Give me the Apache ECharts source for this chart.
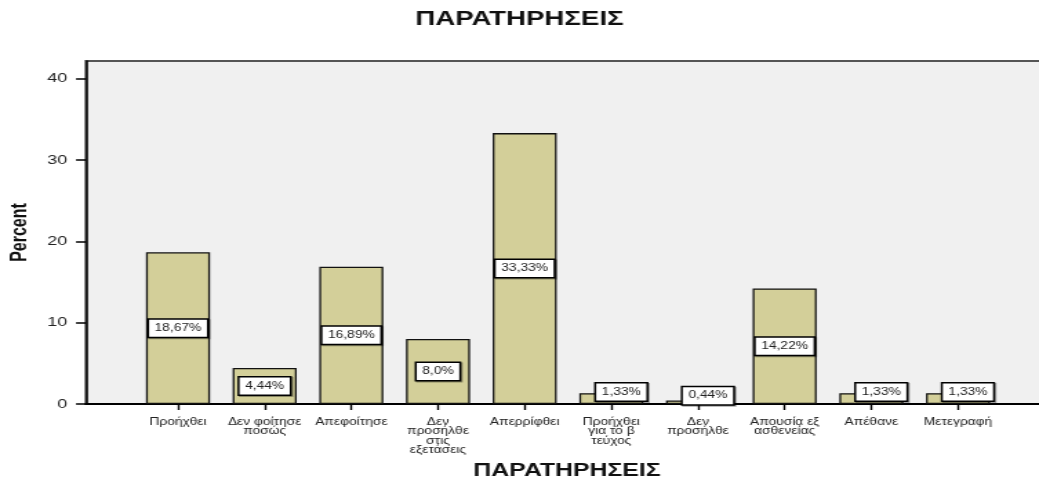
<!DOCTYPE html>
<html>
<head>
<meta charset="utf-8">
<script src="https://cdn.jsdelivr.net/npm/echarts@6/dist/echarts.min.js"></script>
<style>
  html, body { margin: 0; padding: 0; background: #ffffff; overflow: hidden; }
  #wrap { width: 1039px; height: 479px; overflow: hidden; }
  /* the chart is laid out on a narrower canvas and widened, like the exported graphic */
  #chart { width: 753px; height: 479px; transform: scaleX(1.3798); transform-origin: 0 0; }
</style>
</head>
<body>
<div id="wrap"><div id="chart"></div></div>
<script>
// ΠΑΡΑΤΗΡΗΣΕΙΣ – share of students per remark (percent)
const categories = [
  'Προήχθει',
  'Δεν φοίτησε\nποσώς',
  'Απεφοίτησε',
  'Δεν\nπροσήλθε\nστις\nεξετάσεις',
  'Απερρίφθει',
  'Προήχθει\nγια το β\nτεύχος',
  'Δεν\nπροσήλθε',
  'Απουσία εξ\nασθενείας',
  'Απέθανε',
  'Μετεγραφή'
];
const percentValues = [18.67, 4.44, 16.89, 8.0, 33.33, 1.33, 0.44, 14.22, 1.33, 1.33];
const percentLabels = ['18,67%', '4,44%', '16,89%', '8,0%', '33,33%', '1,33%', '0,44%', '14,22%', '1,33%', '1,33%'];
const yTicks = [0, 10, 20, 30, 40];

const chartTitle = 'ΠΑΡΑΤΗΡΗΣΕΙΣ';
const xTitle = 'ΠΑΡΑΤΗΡΗΣΕΙΣ';
const yTitle = 'Percent';

const FONT = '"Liberation Sans", Arial, sans-serif';
const Y_MAX = 42.2;

const chart = echarts.init(document.getElementById('chart'), null, { renderer: 'canvas' });

const barData = percentValues.map((v, i) => {
  const item = { value: v, labelText: percentLabels[i] };
  if (v < 3) {
    // short bars: the value box sits beside the bar, just above the axis
    item.label = { position: 'inside', offset: [7.2, -6.5] };
  }
  return item;
});

const option = {
  animation: false,
  backgroundColor: '#ffffff',
  graphic: [
    {
      type: 'text', x: 376.5, y: 19,
      style: { text: chartTitle, font: 'bold 20px ' + FONT, fill: '#111', textAlign: 'center', textVerticalAlign: 'middle' }
    },
    {
      type: 'text', x: 411, y: 471,
      style: { text: xTitle, font: 'bold 18px ' + FONT, fill: '#111', textAlign: 'center', textVerticalAlign: 'middle' }
    }
  ],
  grid: [
    { // plot frame with the percent scale (runs past the right edge)
      left: 62.3, right: -8, top: 61, bottom: 75,
      outerBoundsMode: 'none', containLabel: false,
      show: true, backgroundColor: '#f0f0f0', borderColor: '#555', borderWidth: 2
    },
    { // category band holding the bars
      left: 97.6, right: 27.3, top: 61, bottom: 75,
      outerBoundsMode: 'none', containLabel: false
    }
  ],
  xAxis: [
    {
      type: 'value', gridIndex: 0, min: 0, max: 1,
      axisLine: { show: true, lineStyle: { color: '#000', width: 2 } },
      axisTick: { show: false }, axisLabel: { show: false }, splitLine: { show: false }
    },
    {
      type: 'category', gridIndex: 1, data: categories,
      axisLine: { show: false },
      axisTick: { show: true, alignWithLabel: true, length: 6, lineStyle: { color: '#000', width: 1.4 } },
      axisLabel: { interval: 0, fontSize: 10, lineHeight: 9.6, color: '#222', fontFamily: FONT, margin: 13, align: 'center' },
      splitLine: { show: false }
    }
  ],
  yAxis: [
    {
      type: 'value', gridIndex: 0, min: 0, max: Y_MAX, interval: 10,
      name: yTitle, nameLocation: 'middle', nameGap: 40, nameRotate: 90,
      nameTextStyle: { fontSize: 16, fontWeight: 'bold', color: '#111', fontFamily: FONT },
      axisLine: { show: true, lineStyle: { color: '#000', width: 1.5 } },
      axisTick: { show: true, length: 7.2, customValues: yTicks, lineStyle: { color: '#000', width: 1.5 } },
      axisLabel: { customValues: yTicks, fontSize: 13, color: '#222', fontFamily: FONT, margin: 13.5 },
      splitLine: { show: false }
    },
    {
      type: 'value', gridIndex: 1, min: 0, max: Y_MAX, show: false,
      splitLine: { show: false }
    }
  ],
  series: [
    {
      type: 'bar', xAxisIndex: 1, yAxisIndex: 1,
      data: barData,
      barWidth: 46.4,
      itemStyle: { color: '#d3cf99', borderColor: '#111', borderWidth: 1.3 },
      label: {
        show: true, position: 'inside',
        formatter: p => p.data.labelText,
        fontSize: 10, fontFamily: FONT, color: '#222',
        backgroundColor: '#ffffff', borderColor: '#000', borderWidth: 1.5,
        padding: [4, 4, 3, 4],
        shadowColor: 'rgba(0,0,0,0.35)', shadowOffsetX: 1, shadowOffsetY: 1, shadowBlur: 0
      }
    }
  ]
};

chart.setOption(option);
</script>
</body>
</html>
